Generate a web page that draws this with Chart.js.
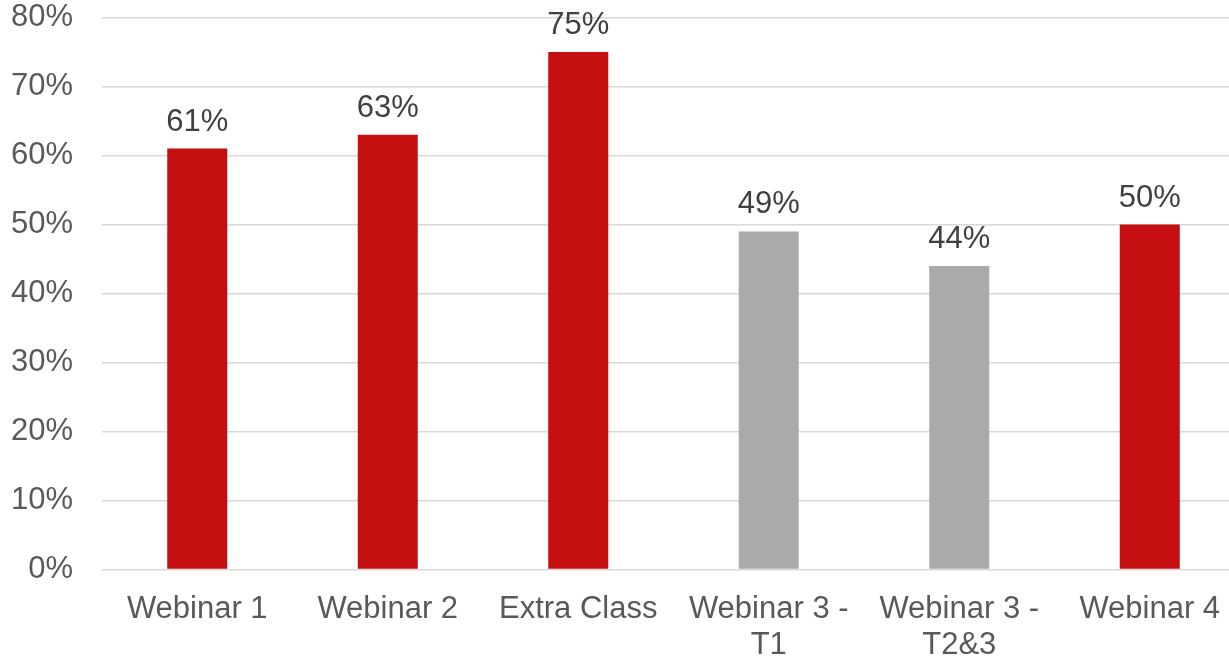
<!DOCTYPE html>
<html>
<head>
<meta charset="utf-8">
<script src="https://cdn.jsdelivr.net/npm/chart.js@4/dist/chart.umd.min.js"></script>
<style>
    html, body { margin: 0; padding: 0; background: #fff; overflow: hidden; }
    #wrap { width: 1245px; height: 658px; }
</style>
</head>
<body>
<div id="wrap"><canvas id="myChart"></canvas></div>
<script>
const categories = ['Webinar 1', 'Webinar 2', 'Extra Class', ['Webinar 3 -', 'T1'], ['Webinar 3 -', 'T2&3'], 'Webinar 4'];
const values = [61, 63, 75, 49, 44, 50];
const barColors = ['#C40E10', '#C40E10', '#C40E10', '#AAAAAA', '#AAAAAA', '#C40E10'];
const yTicks = [0, 10, 20, 30, 40, 50, 60, 70, 80];

const fontFamily = '"Liberation Sans", Arial, sans-serif';

// draws "61%" etc above each bar
const valueLabels = {
    id: 'valueLabels',
    afterDatasetsDraw(chart) {
        const c = chart.ctx;
        const meta = chart.getDatasetMeta(0);
        c.save();
        c.font = '31px ' + fontFamily;
        c.fillStyle = '#404040';
        c.textAlign = 'center';
        c.textBaseline = 'alphabetic';
        meta.data.forEach((bar, i) => {
            c.fillText(values[i] + '%', bar.x, bar.y - 18);
        });
        c.restore();
    }
};

let ctx = document.getElementById('myChart');
new Chart(ctx, {
    type: 'bar',
    data: {
        labels: categories,
        datasets: [{
            data: values,
            backgroundColor: barColors,
            barPercentage: 0.315,
            categoryPercentage: 1
        }]
    },
    options: {
        responsive: true,
        maintainAspectRatio: false,
        animation: false,
        devicePixelRatio: 1,
        layout: {
            padding: { top: 17.5, left: 11, right: 0, bottom: 0 }
        },
        plugins: {
            legend: { display: false },
            tooltip: { enabled: false }
        },
        scales: {
            x: {
                grid: { display: false },
                border: { display: false },
                afterFit(axis) {
                    axis.height = 88.5;
                    axis.paddingLeft = 0;
                    axis.paddingRight = 0;
                },
                ticks: {
                    color: '#595959',
                    padding: 14,
                    maxRotation: 0,
                    autoSkip: false,
                    font: { family: fontFamily, size: 31, lineHeight: 1.17 }
                }
            },
            y: {
                min: 0,
                max: 80,
                afterBuildTicks(axis) {
                    axis.ticks = yTicks.map(v => ({ value: v }));
                },
                afterFit(axis) {
                    axis.width = 91;
                    axis.paddingTop = 0;
                    axis.paddingBottom = 0;
                },
                grid: {
                    color: '#D9D9D9',
                    lineWidth: 1.5,
                    drawTicks: false
                },
                border: { display: false },
                ticks: {
                    color: '#595959',
                    padding: 29,
                    callback: v => v + '%',
                    font: { family: fontFamily, size: 31 }
                }
            }
        }
    },
    plugins: [valueLabels]
});
</script>
</body>
</html>
